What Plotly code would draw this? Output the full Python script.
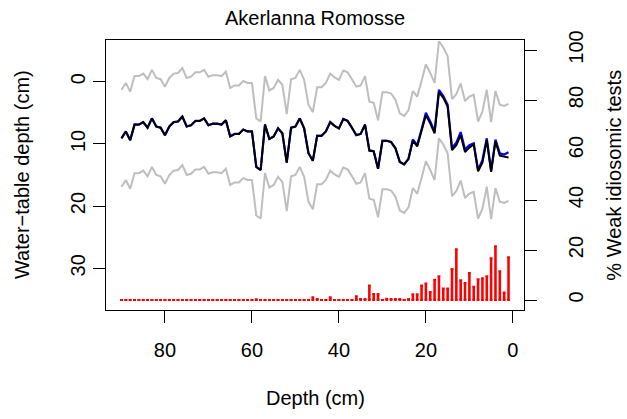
import plotly.graph_objects as go

# Sample depths (cm) of the core
depth = list(range(1, 91))

# Reconstructed water-table depth (cm), full training set (black)
wtd_full = [12.2, 12.0, 11.9, 9.6, 14.5, 9.4, 13.0, 14.4, 10.1, 10.6,
            11.3, 8.6, 10.2, 11.0, 4.0, 2.6, 1.7, 8.3, 6.7, 5.4,
            8.0, 10.4, 9.5, 12.4, 13.3, 12.9, 10.7, 9.7, 9.5, 9.5,
            14.0, 11.2, 11.1, 6.9, 8.4, 8.6, 7.4, 6.3, 6.0, 7.5,
            7.1, 6.5, 8.0, 8.7, 8.7, 12.7, 11.5, 7.5, 5.9, 7.2,
            7.4, 13.0, 8.3, 7.5, 8.8, 9.2, 6.9, 14.2, 13.7, 8.0,
            8.0, 7.7, 8.4, 8.4, 8.8, 6.2, 6.9, 6.75, 6.75, 7.0,
            5.9, 6.3, 6.3, 7.0, 7.2, 5.6, 6.4, 6.5, 7.2, 8.6,
            7.4, 7.2, 5.9, 7.4, 6.5, 6.9, 6.9, 9.4, 8.0, 9.1]

# Reconstruction without weak idiosomic tests (blue)
wtd_excl = [11.35, 11.7, 11.5, 9.3, 14.3, 9.1, 12.6, 14.2, 9.9, 10.2,
            10.9, 8.1, 9.8, 10.6, 3.7, 2.3, 1.3, 8.0, 6.4, 5.0,
            7.7, 10.2, 9.3, 12.4, 13.3, 12.9, 10.7, 9.7, 9.5, 9.5,
            14.0, 11.2, 11.0, 6.9, 8.4, 8.6, 7.4, 6.3, 6.0, 7.5,
            7.1, 6.5, 8.0, 8.7, 8.7, 12.7, 11.5, 7.5, 5.9, 7.2,
            7.4, 13.0, 8.3, 7.5, 8.8, 9.2, 6.9, 14.2, 13.7, 8.0,
            8.0, 7.7, 8.4, 8.4, 8.8, 6.2, 6.9, 6.75, 6.75, 7.0,
            5.9, 6.3, 6.3, 7.0, 7.2, 5.6, 6.4, 6.5, 7.2, 8.6,
            7.4, 7.2, 5.9, 7.4, 6.5, 6.9, 6.9, 9.4, 8.0, 9.1]

# Prediction error (cm) used for the grey bounds
rmsep = 7.8

# Percentage of weak idiosomic tests per sample
weak_pct = [17.1, 3.0, 11.5, 21.5, 16.7, 9.5, 8.7, 8.3, 5.3, 10.8,
            6.8, 7.9, 20.3, 12.4, 4.6, 4.6, 9.5, 8.1, 3.2, 6.6,
            5.8, 2.3, 2.3, 0.4, 0.0, 0.4, 0.4, 0.4, 0.5, 0.0,
            2.4, 2.4, 5.8, 0.4, 0.4, 1.5, 0.0, 0.0, 0.0, 0.0,
            0.0, 1.1, 0.0, 0.0, 0.4, 1.1, 0.0, 0.0, 0.0, 0.0,
            0.0, 0.0, 0.0, 0.0, 0.0, 0.0, 0.0, 0.0, 0.3, 0.0,
            0.0, 0.0, 0.0, 0.0, 0.0, 0.0, 0.0, 0.0, 0.0, 0.0,
            0.0, 0.0, 0.0, 0.0, 0.0, 0.0, 0.0, 0.0, 0.0, 0.0,
            0.0, 0.0, 0.0, 0.0, 0.0, 0.0, 0.0, 0.0, 0.0, 0.0]

x_ticks = [0, 20, 40, 60, 80]
left_ticks = [0, 10, 20, 30]
right_ticks = [0, 20, 40, 60, 80, 100]

FONT = "Liberation Sans, Arial, sans-serif"
FS = 20

upper = [v - rmsep for v in wtd_excl]
lower = [v + rmsep for v in wtd_excl]

fig = go.Figure()

fig.add_trace(go.Scatter(x=depth, y=upper, mode="lines",
                         line=dict(color="#BEBEBE", width=2), yaxis="y"))
fig.add_trace(go.Scatter(x=depth, y=lower, mode="lines",
                         line=dict(color="#BEBEBE", width=2), yaxis="y"))
fig.add_trace(go.Scatter(x=depth, y=wtd_excl, mode="lines",
                         line=dict(color="#0000FF", width=2.2), yaxis="y"))
fig.add_trace(go.Scatter(x=depth, y=wtd_full, mode="lines",
                         line=dict(color="#000000", width=2), yaxis="y"))

# Histogram-style vertical lines for the weak-test percentages,
# with short caps so that zero values still show as a dash
hx, hy = [], []
for d, p in zip(depth, weak_pct):
    hx += [d, d, None]
    hy += [0, p, None]
fig.add_trace(go.Scatter(x=hx, y=hy, mode="lines+markers",
                         line=dict(color="#FF0000", width=2.6),
                         marker=dict(symbol="line-ew", size=2,
                                     line=dict(color="#FF0000", width=2)),
                         yaxis="y2"))

axis_common = dict(showgrid=False, zeroline=False, showline=True,
                   linecolor="black", linewidth=1, ticks="outside",
                   ticklen=12, tickwidth=1, tickcolor="black",
                   tickfont=dict(family=FONT, size=FS, color="black"))

fig.update_layout(
    width=627, height=419, autosize=False,
    margin=dict(l=106, r=103, t=40, b=109),
    paper_bgcolor="white", plot_bgcolor="white",
    showlegend=False,
    font=dict(family=FONT, size=FS, color="black"),
    title=dict(text="Akerlanna Romosse", x=0.5, xref="paper", xanchor="center",
               y=1 - 18 / 419, yref="container", yanchor="middle",
               font=dict(family=FONT, size=FS, color="black")),
    xaxis=dict(range=[93.56, -2.56], tickvals=x_ticks, mirror=True,
               ticklabelstandoff=10, **axis_common),
    yaxis=dict(range=[36.7, -6.7], tickvals=left_ticks, tickangle=-90,
               mirror=True, **axis_common),
    yaxis2=dict(range=[-4, 104], tickvals=right_ticks, tickangle=-90,
                overlaying="y", side="right", ticklabelstandoff=22,
                **axis_common),
    annotations=[
        dict(text="Depth (cm)", xref="paper", yref="paper", x=0.5, y=(310 - 398) / 270,
             showarrow=False, xanchor="center", yanchor="middle",
             font=dict(family=FONT, size=FS)),
        dict(text="Water\u2212table depth (cm)", xref="paper", yref="paper",
             x=(22 - 106) / 418.3, y=0.5, textangle=-90, showarrow=False,
             xanchor="center", yanchor="middle", font=dict(family=FONT, size=FS)),
        dict(text="% Weak idiosomic tests", xref="paper", yref="paper",
             x=(614 - 106) / 418.3, y=0.5, textangle=-90, showarrow=False,
             xanchor="center", yanchor="middle", font=dict(family=FONT, size=FS)),
    ],
)

fig.write_html("out.html")
